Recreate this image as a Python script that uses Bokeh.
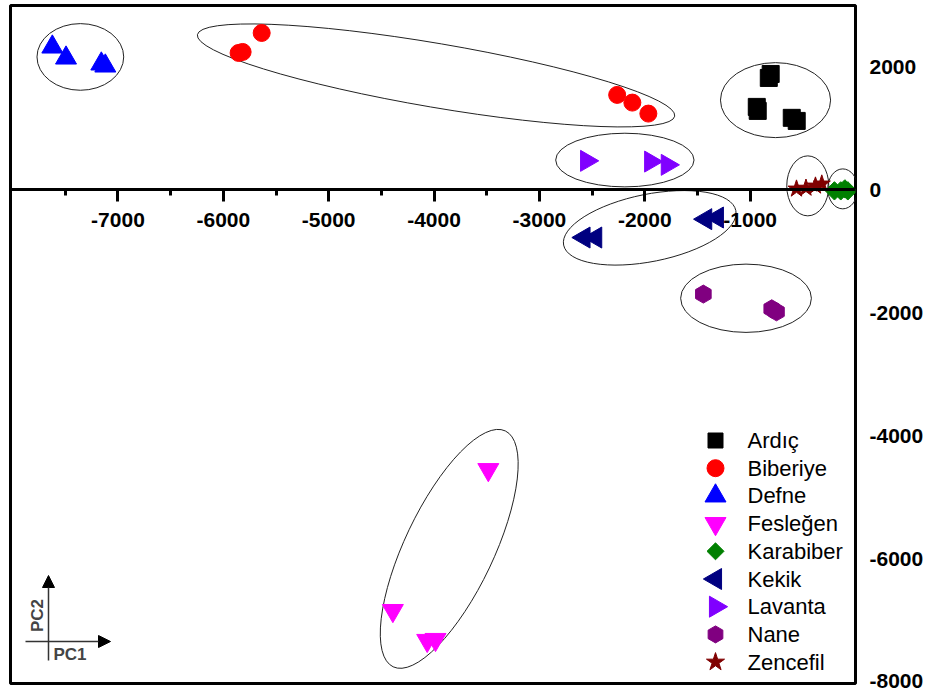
import math
from bokeh.plotting import figure
from bokeh.models import FixedTicker, Arrow, NormalHead, Label, Range1d
from bokeh.core.properties import value
from bokeh.embed import file_html
from bokeh.resources import INLINE

# ---------------- data ----------------
groups = ["Ardıç", "Biberiye", "Defne", "Fesleğen", "Karabiber",
          "Kekik", "Lavanta", "Nane", "Zencefil"]

ardic_x = [-823, -805, -937, -928, -605, -558]
ardic_y = [1821, 1886, 1350, 1285, 1172, 1122]

biberiye_x = [-5855, -5817, -5636, -2262, -2118, -1966]
biberiye_y = [2228, 2244, 2553, 1545, 1420, 1241]

defne_x = [-7623, -7493, -7158, -7120]
defne_y = [2325, 2146, 2049, 2016]

feslegen_x = [-3485, -4391, -4065, -3986]
feslegen_y = [-4553, -6846, -7333, -7317]

karabiber_x = [-200, -140, -101, -73]
karabiber_y = [-16, -16, 16, -16]

kekik_x = [-2577, -2466, -1422, -1311]
kekik_y = [-776, -776, -477, -450]

lavanta_x = [-2552, -1944, -1786]
lavanta_y = [472, 460, 407]

nane_x = [-1444, -795, -750]
nane_y = [-1696, -1935, -1985]

zencefil_x = [-560, -470, -380, -320]
zencefil_y = [16, 30, 65, 98]

# cluster ellipses: centre, width (x units), height (y units), tilt (rad)
ell_x = [-7357, -3981, -759, -2189, -1953, -1039, -453, -121, -3856]
ell_y = [2163, 1862, 1460, 485, -618, -1764, 65, 16, -5842]
ell_w = [823, 4596, 1045, 1313, 1667, 1241, 399, 285, 2479]
ell_h = [1085, 1041, 1220, 873, 1096, 1111, 976, 650, 1447]
ell_a = [0.0, -0.169, 0.0, 0.0, 0.198, 0.0, 0.0, 0.0, 1.127]

x_ticks = [-7000, -6000, -5000, -4000, -3000, -2000, -1000]
x_minor = [-7500, -6500, -5500, -4500, -3500, -2500, -1500]
y_ticks = [2000, 0, -2000, -4000, -6000, -8000]

# ---------------- figure ----------------
FONT = "Liberation Sans"
FW, FH = 845, 678
p = figure(frame_width=FW, frame_height=FH,
           x_range=(-8020, 0), y_range=(-8033, 3000),
           output_backend="svg", toolbar_location=None,
           y_axis_location="right", x_axis_location="below",
           min_border_left=10, min_border_top=5, min_border_bottom=13,
           min_border_right=76)
p.xgrid.visible = False
p.ygrid.visible = False
p.outline_line_color = "black"
p.outline_line_width = 3
p.background_fill_color = "white"
p.border_fill_color = "white"

# pixel-like helper ranges for the legend and the PC arrows
p.extra_x_ranges["px"] = Range1d(0, FW)
p.extra_y_ranges["px"] = Range1d(0, FH)

# x axis drawn through y = 0
xa = p.xaxis[0]
xa.fixed_location = 0
xa.ticker = FixedTicker(ticks=x_ticks, minor_ticks=x_minor)
xa.major_label_overrides = {t: str(t) for t in x_ticks}
xa.axis_line_width = 3
xa.axis_line_color = "black"
xa.major_tick_in = 0
xa.major_tick_out = 12
xa.minor_tick_in = 0
xa.minor_tick_out = 6
xa.major_tick_line_width = 3
xa.minor_tick_line_width = 3
xa.major_label_standoff = 11
xa.major_label_text_font = FONT
xa.major_label_text_font_style = "bold"
xa.major_label_text_font_size = "21px"
xa.major_label_text_color = "black"

ya = p.yaxis[0]
ya.ticker = FixedTicker(ticks=y_ticks, minor_ticks=[])
ya.major_label_overrides = {t: str(t) for t in y_ticks}
ya.axis_line_color = None
ya.major_tick_line_color = None
ya.minor_tick_line_color = None
ya.major_tick_out = 0
ya.major_tick_in = 0
ya.major_label_standoff = 14
ya.major_label_text_font = FONT
ya.major_label_text_font_style = "bold"
ya.major_label_text_font_size = "21px"
ya.major_label_text_color = "black"

# ellipses
p.ellipse(x=ell_x, y=ell_y, width=ell_w, height=ell_h, angle=ell_a,
          fill_color=None, line_color="#222222", line_width=1)

# marker styles per group: (marker, size in plot, size in legend, colour, angle)
styles = [
    ("square", 17, 15, "black", 0.0),
    ("circle", 17, 17, "#ff0000", 0.0),
    ("triangle", 21, 21, "#0000ff", 0.0),
    ("inverted_triangle", 21, 21, "#ff00ff", 0.0),
    ("square", 13, 12, "#008000", math.pi / 4),
    ("triangle", 21, 21, "#000080", math.pi / 2),
    ("triangle", 21, 21, "#8000ff", -math.pi / 2),
    ("hex", 18, 17, "#800080", math.pi / 6),
    ("star", 18, 19, "#800000", 0.0),
]
xs_all = [ardic_x, biberiye_x, defne_x, feslegen_x, karabiber_x,
          kekik_x, lavanta_x, nane_x, zencefil_x]
ys_all = [ardic_y, biberiye_y, defne_y, feslegen_y, karabiber_y,
          kekik_y, lavanta_y, nane_y, zencefil_y]

for name, xs, ys, (mk, sz, lsz, col, ang) in zip(groups, xs_all, ys_all, styles):
    p.scatter(x=xs, y=ys, marker=mk, size=sz, fill_color=col,
              line_color=col, angle=ang, name=name)

# legend (bottom right inside the frame), laid out in frame pixels
LEG_GX, LEG_TX, LEG_TOP, LEG_STEP = 705, 737, 243, 27.7
for i, (name, (mk, sz, lsz, col, ang)) in enumerate(zip(groups, styles)):
    yy = LEG_TOP - i * LEG_STEP
    p.scatter(x=[LEG_GX], y=[yy], marker=mk, size=lsz, fill_color=col,
              line_color=col, angle=ang, x_range_name="px", y_range_name="px")
    p.text(x=[LEG_TX], y=[yy], text=[name], text_align="left",
           text_baseline="middle", text_font=value(FONT),
           text_font_size="22px", text_color="black",
           x_range_name="px", y_range_name="px")

# PC1 / PC2 orientation arrows
head = dict(size=12, fill_color="black", line_color="black")
p.add_layout(Arrow(end=NormalHead(**head), x_start=38, y_start=23, x_end=38, y_end=108,
                   x_range_name="px", y_range_name="px",
                   line_color="#333333", line_width=1.5))
p.add_layout(Arrow(end=NormalHead(**head), x_start=15, y_start=42, x_end=100, y_end=42,
                   x_range_name="px", y_range_name="px",
                   line_color="#333333", line_width=1.5))
p.add_layout(Label(x=27, y=68, x_range_name="px", y_range_name="px", text="PC2",
                   angle=math.pi / 2, text_align="center", text_baseline="middle",
                   text_font=FONT, text_font_style="bold", text_font_size="17px"))
p.add_layout(Label(x=43, y=29, x_range_name="px", y_range_name="px", text="PC1",
                   text_align="left", text_baseline="middle",
                   text_font=FONT, text_font_style="bold", text_font_size="17px"))

open("out.html", "w").write(file_html(p, INLINE))
